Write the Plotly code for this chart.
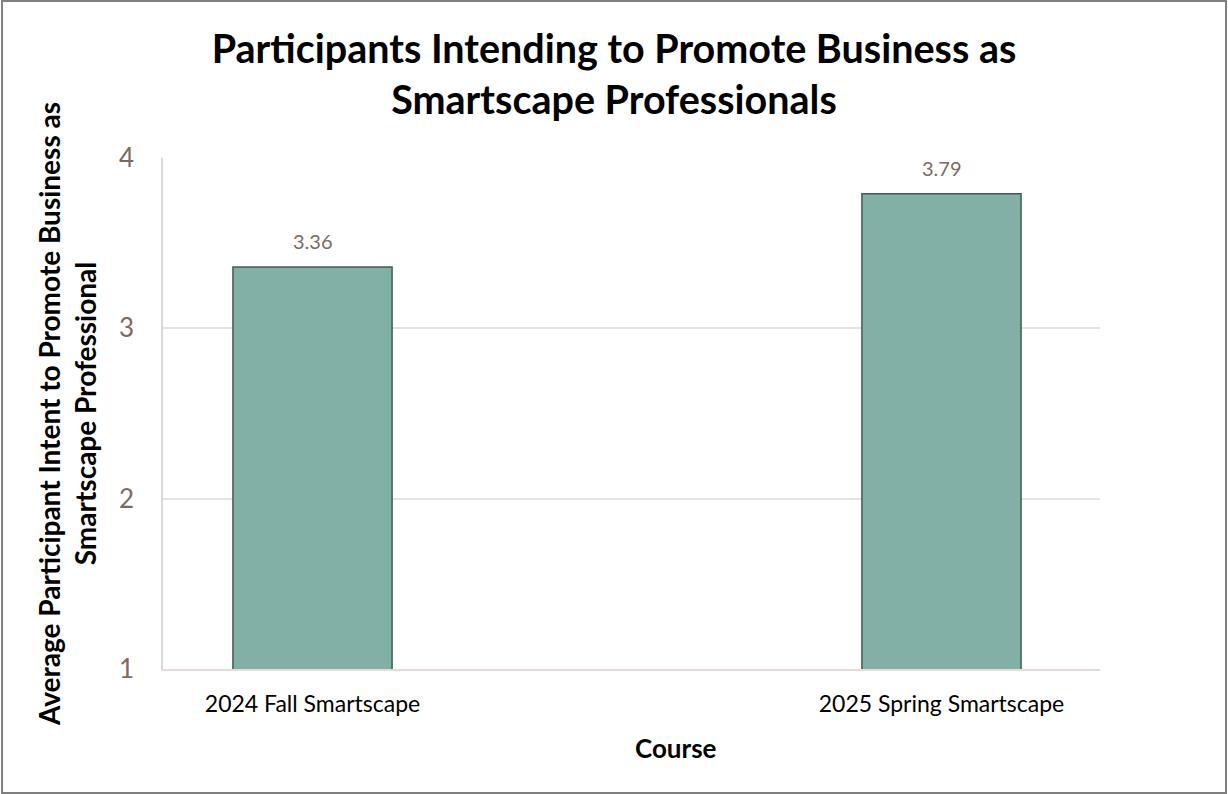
import plotly.graph_objects as go

courses = ["2024 Fall Smartscape", "2025 Spring Smartscape"]
values = [3.36, 3.79]
y_ticks = [1, 2, 3, 4]
title_text = "Participants Intending to Promote Business as<br>Smartscape Professionals"
y_title = "Average Participant Intent to Promote Business as<br>Smartscape Professional"
x_title = "Course"

FONT = "Lato, 'Open Sans', sans-serif"
TICK_COLOR = "#7B6A61"

fig = go.Figure()
fig.add_trace(go.Bar(
    x=courses, y=values,
    width=0.253,
    marker=dict(color="#83B0A6", line=dict(color="#3E5C55", width=1.5)),
    hoverinfo="x+y",
))

for c, v in zip(courses, values):
    fig.add_annotation(x=c, y=v, text=f"{v:.2f}", showarrow=False, yshift=26,
                       font=dict(family=FONT, size=20, color=TICK_COLOR))

fig.add_annotation(xref="paper", yref="paper", x=0.548, y=-0.155, yanchor="middle",
                   text=f"<b>{x_title}</b>",
                   showarrow=False, font=dict(family=FONT, size=26, color="#000000"))

fig.add_shape(type="rect", xref="paper", yref="paper",
              x0=-0.1718, x1=1.1345, y0=-0.2427, y1=1.307,
              line=dict(color="#7F7F7F", width=2), layer="below")

fig.update_layout(
    width=1228, height=794,
    margin=dict(l=163, r=128, t=158, b=125),
    paper_bgcolor="white", plot_bgcolor="white",
    showlegend=False,
    title=dict(text=f"<b>{title_text}</b>", x=0.5, xanchor="center",
               yref="container", y=0.921, yanchor="middle",
               font=dict(family=FONT, size=39.5, color="#000000")),
    xaxis=dict(type="category", range=[-0.2377, 1.252], showgrid=False,
               showline=True, linecolor="#E3DCD8", linewidth=1.5,
               ticks="", ticklabelstandoff=14,
               tickfont=dict(family=FONT, size=23, color="#000000")),
    yaxis=dict(range=[1, 4], tickvals=y_ticks, showgrid=True, gridcolor="#E8E2DE", gridwidth=1.5,
               showline=True, linecolor="#D9D9D9", linewidth=1.5, zeroline=False,
               ticks="", ticklabelstandoff=22,
               tickfont=dict(family=FONT, size=26, color=TICK_COLOR),
               title=dict(text=f"<b>{y_title}</b>", standoff=14,
                          font=dict(family=FONT, size=28, color="#000000"))),
)

fig.write_html("out.html", config={"displayModeBar": False},
               post_script="document.body.style.margin='0';document.body.style.overflow='hidden';")
